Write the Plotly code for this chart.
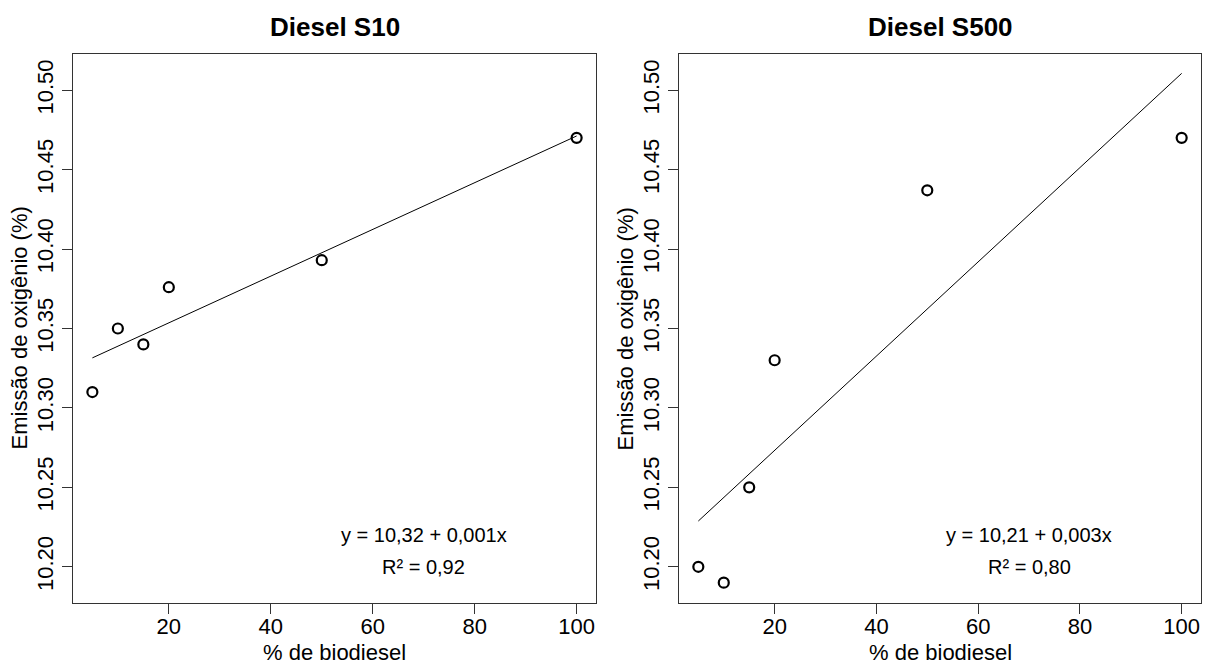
import plotly.graph_objects as go

# ---- data ----
biodiesel_pct = [5, 10, 15, 20, 50, 100]
s10_oxygen = [10.310, 10.350, 10.340, 10.376, 10.393, 10.470]
s500_oxygen = [10.200, 10.190, 10.250, 10.330, 10.437, 10.470]

fit_x = [5, 100]
s10_fit_y = [10.3315, 10.4712]
s500_fit_y = [10.2288, 10.5106]

panel_titles = ["Diesel S10", "Diesel S500"]
s10_equation = ["y = 10,32 + 0,001x", "R² = 0,92"]
s500_equation = ["y = 10,21 + 0,003x", "R² = 0,80"]
eq_x = 70
eq_y = [10.220, 10.200]

x_ticks = [20, 40, 60, 80, 100]
y_ticks = [10.20, 10.25, 10.30, 10.35, 10.40, 10.45, 10.50]
x_label = "% de biodiesel"
y_label = "Emissão de oxigênio (%)"

# ---- figure ----
W, H = 1210, 664
FONT = "Liberation Sans, Arial, Helvetica, sans-serif"
x_range = [1.2, 103.8]
y_range = [10.1772, 10.5228]

dom_x1 = [73 / W, 596 / W]
dom_x2 = [679 / W, 1201 / W]
dom_y = [(H - 603) / H, (H - 54) / H]

fig = go.Figure()

panels = [
    ("x", "y", s10_oxygen, s10_fit_y, s10_equation, dom_x1),
    ("x2", "y2", s500_oxygen, s500_fit_y, s500_equation, dom_x2),
]

for i, (xa, ya, yvals, fity, eq, dom) in enumerate(panels):
    fig.add_trace(go.Scatter(
        x=fit_x, y=fity, mode="lines", xaxis=xa, yaxis=ya,
        line=dict(color="black", width=1), showlegend=False, hoverinfo="skip"))
    fig.add_trace(go.Scatter(
        x=biodiesel_pct, y=yvals, mode="markers", xaxis=xa, yaxis=ya,
        marker=dict(symbol="circle-open", size=10, color="black",
                    line=dict(width=2.2, color="black")),
        showlegend=False))
    for txt, yy in zip(eq, eq_y):
        fig.add_annotation(x=eq_x, y=yy, xref=xa, yref=ya, text=txt,
                           showarrow=False, xanchor="center", yanchor="middle",
                           font=dict(family=FONT, size=20, color="black"))
    cx = (dom[0] + dom[1]) / 2
    # panel title
    fig.add_annotation(x=cx, y=(H - 27) / H, xref="paper", yref="paper",
                       text="<b>" + panel_titles[i] + "</b>", showarrow=False,
                       xanchor="center", yanchor="middle",
                       font=dict(family=FONT, size=26, color="black"))
    # x-axis title
    fig.add_annotation(x=cx, y=0, xref="paper", yref="paper",
                       text=x_label, showarrow=False, height=24,
                       xanchor="center", yanchor="bottom", yshift=-2,
                       font=dict(family=FONT, size=22, color="black"))
    # y-axis title
    yx = (19 if i == 0 else 625) / W
    fig.add_annotation(x=yx, y=(dom_y[0] + dom_y[1]) / 2, xref="paper", yref="paper",
                       text=y_label, showarrow=False, textangle=-90,
                       xanchor="center", yanchor="middle",
                       font=dict(family=FONT, size=22, color="black"))

axis_common = dict(showline=True, mirror=True, linecolor="#333", linewidth=1,
                   showgrid=False, zeroline=False, ticks="outside", ticklen=10,
                   tickcolor="#333", tickwidth=1,
                   tickfont=dict(family=FONT, size=22, color="black"))

fig.update_layout(
    width=W, height=H, margin=dict(l=0, r=0, t=0, b=0),
    paper_bgcolor="white", plot_bgcolor="white",
    xaxis=dict(domain=dom_x1, range=x_range, tickvals=x_ticks, anchor="y",
               ticklabelstandoff=-6, **axis_common),
    yaxis=dict(domain=dom_y, range=y_range, tickvals=y_ticks, tickformat=".2f",
               tickangle=-90, anchor="x", **axis_common),
    xaxis2=dict(domain=dom_x2, range=x_range, tickvals=x_ticks, anchor="y2",
                ticklabelstandoff=-6, **axis_common),
    yaxis2=dict(domain=dom_y, range=y_range, tickvals=y_ticks, tickformat=".2f",
                tickangle=-90, anchor="x2", **axis_common),
)

fig.write_html("out.html", config={"displayModeBar": False},
               post_script="document.body.style.margin='0px';document.body.style.overflow='hidden';")
